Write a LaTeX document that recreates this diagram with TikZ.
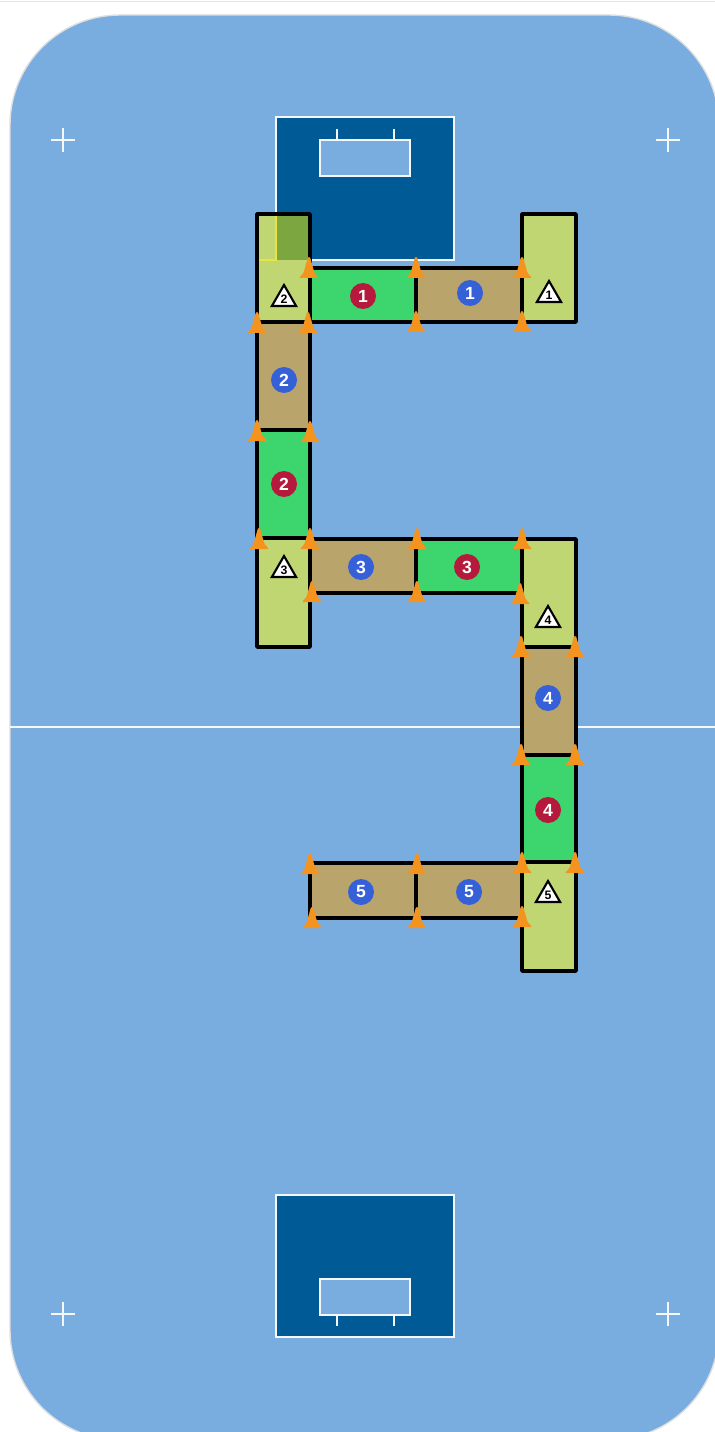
\documentclass[tikz,border=0pt]{standalone}
\usepackage{fontspec}
\setmainfont{Liberation Sans}
\usepackage{tikz}
\usetikzlibrary{shapes.geometric}
\usepackage{xcolor}
\definecolor{rinkblue}{HTML}{7AADDF}
\definecolor{creaseblue}{HTML}{005A96}
\definecolor{zonelight}{HTML}{C0D672}
\definecolor{zonegreen}{HTML}{3DD56D}
\definecolor{zonetan}{HTML}{B9A46C}
\definecolor{zoneolive}{HTML}{7BA640}
\definecolor{playerred}{HTML}{B5193C}
\definecolor{playerblue}{HTML}{3560D8}
\definecolor{coneorange}{HTML}{F5931F}

\begin{document}
\begin{tikzpicture}[x=0.02cm,y=-0.02cm,line cap=butt,
  zonebox/.style={draw=black,line width=2pt,line join=round},
  rinkline/.style={draw=white!92!rinkblue,line width=1.3pt},
  redplayer/.style={circle,fill=playerred,text=white,inner sep=0pt,minimum size=0.52cm,font=\bfseries\normalsize},
  blueplayer/.style={circle,fill=playerblue,text=white,inner sep=0pt,minimum size=0.52cm,font=\bfseries\normalsize},
  coach/.style={regular polygon,regular polygon sides=3,draw=black,fill=white,line width=1.2pt,inner sep=0pt,minimum size=0.56cm,font=\bfseries\scriptsize},
  cone/.pic={\fill[coneorange,rounded corners=0.6pt] (-10,10) -- (-5.5,5) -- (-1,-11) -- (1,-11) -- (5.5,5) -- (10,10) -- cycle;}]
\useasboundingbox (0,0) rectangle (715,1432);
\clip (0,0) rectangle (715,1432);
\draw[gray!20] (0,1) -- (715,1);
% rink
\draw[fill=rinkblue,draw=gray!25,line width=0.8pt,rounded corners=2.2cm] (10,15) rectangle (719,1440);
\draw[rinkline] (10,727) -- (715,727);
\draw[rinkline] (51,140) -- (75,140);
\draw[rinkline] (63,128) -- (63,152);
\draw[rinkline] (656,140) -- (680,140);
\draw[rinkline] (668,128) -- (668,152);
\draw[rinkline] (51,1314) -- (75,1314);
\draw[rinkline] (63,1302) -- (63,1326);
\draw[rinkline] (656,1314) -- (680,1314);
\draw[rinkline] (668,1302) -- (668,1326);
% goal areas
\draw[rinkline,fill=creaseblue] (276,117) rectangle (454,260);
\draw[rinkline,fill=rinkblue] (320,140) rectangle (410,176);
\draw[rinkline] (337,129) -- (337,140);
\draw[rinkline] (394,129) -- (394,140);
\draw[rinkline,fill=creaseblue] (276,1195) rectangle (454,1337);
\draw[rinkline,fill=rinkblue] (320,1279) rectangle (410,1315);
\draw[rinkline] (337,1315) -- (337,1326);
\draw[rinkline] (394,1315) -- (394,1326);
% zones
\fill[zonelight] (257,214) rectangle (310,322);
\fill[zoneolive] (276,214) rectangle (310,260);
\draw[yellow!60!zonelight,line width=1.3pt] (257,260) -- (276,260) -- (276,214);
\draw[zonebox] (257,214) rectangle (310,322);
\draw[zonebox,fill=zonelight] (522,214) rectangle (576,322);
\draw[zonebox,fill=zonegreen] (310,268) rectangle (416,322);
\draw[zonebox,fill=zonetan] (416,268) rectangle (522,322);
\draw[zonebox,fill=zonetan] (257,322) rectangle (310,430);
\draw[zonebox,fill=zonegreen] (257,430) rectangle (310,538);
\draw[zonebox,fill=zonelight] (257,538) rectangle (310,647);
\draw[zonebox,fill=zonetan] (310,539) rectangle (416,593);
\draw[zonebox,fill=zonegreen] (416,539) rectangle (522,593);
\draw[zonebox,fill=zonelight] (522,539) rectangle (576,647);
\draw[zonebox,fill=zonetan] (522,647) rectangle (576,755);
\draw[zonebox,fill=zonegreen] (522,755) rectangle (576,862);
\draw[zonebox,fill=zonelight] (522,862) rectangle (576,971);
\draw[zonebox,fill=zonetan] (310,863) rectangle (416,918);
\draw[zonebox,fill=zonetan] (416,863) rectangle (522,918);
% players
\node[redplayer] (red1) at (363,296) {1};
\node[redplayer] (red2) at (284,484) {2};
\node[redplayer] (red3) at (467,567) {3};
\node[redplayer] (red4) at (548,810) {4};
\node[blueplayer] (blue1) at (470,293) {1};
\node[blueplayer] (blue2) at (284,380) {2};
\node[blueplayer] (blue3) at (361,567) {3};
\node[blueplayer] (blue4) at (548,698) {4};
\node[blueplayer] (blue5a) at (361,892) {5};
\node[blueplayer] (blue5b) at (469,892) {5};
\node[coach] (coach1) at (549,295) {1};
\node[coach] (coach2) at (284,299) {2};
\node[coach] (coach3) at (284,570) {3};
\node[coach] (coach4) at (548,620) {4};
\node[coach] (coach5) at (548,895) {5};
% cones
\pic at (309,268) {cone};
\pic at (416,268) {cone};
\pic at (522,268) {cone};
\pic at (257,323) {cone};
\pic at (308,323) {cone};
\pic at (416,322) {cone};
\pic at (522,322) {cone};
\pic at (257,431) {cone};
\pic at (310,432) {cone};
\pic at (259,539) {cone};
\pic at (310,539) {cone};
\pic at (417,539) {cone};
\pic at (522,539) {cone};
\pic at (312,592) {cone};
\pic at (417,592) {cone};
\pic at (520,594) {cone};
\pic at (521,647) {cone};
\pic at (575,647) {cone};
\pic at (521,755) {cone};
\pic at (575,755) {cone};
\pic at (522,863) {cone};
\pic at (575,863) {cone};
\pic at (310,864) {cone};
\pic at (417,864) {cone};
\pic at (312,918) {cone};
\pic at (417,918) {cone};
\pic at (522,917) {cone};
\end{tikzpicture}
\end{document}
